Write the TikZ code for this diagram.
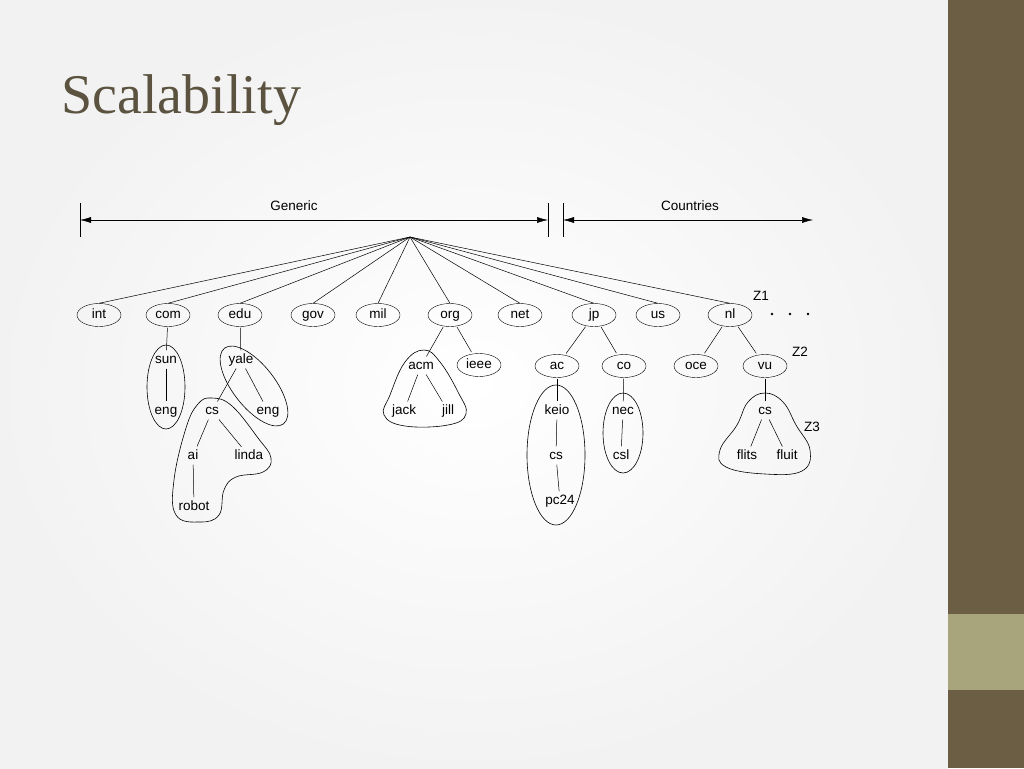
\documentclass[tikz,border=0pt]{standalone}
\usepackage{fontspec}
\setmainfont{Liberation Sans}
\newfontfamily\titlefont{Liberation Serif}
\usetikzlibrary{shapes.geometric,arrows.meta}
\begin{document}
\begin{tikzpicture}[x=1pt,y=-1pt,
  lab/.style={font=\fontsize{13.5}{14}\selectfont,inner sep=1.5pt,text height=9.5pt,text depth=2.5pt},
  ell/.style={lab,draw,ellipse,minimum width=44pt,minimum height=23pt,inner sep=0pt},
  ed/.style={line width=0.5pt},
  arr/.style={line width=0.5pt,{Latex[length=11pt,width=6pt]}-{Latex[length=11pt,width=6pt]}},
  blob/.style={line width=0.6pt}]
\useasboundingbox (0,0) rectangle (1024,768);
\shade[inner color=white,outer color=gray!10] (0,0) rectangle (948,768);
\fill[fill={rgb,255:red,107;green,94;blue,69}] (948,0) rectangle (1024,768);
\fill[fill={rgb,255:red,168;green,164;blue,124}] (948,614) rectangle (1024,690);
\node[anchor=west,text={rgb,255:red,91;green,83;blue,64},font=\titlefont\fontsize{56}{60}\selectfont] (title) at (58,100) {Scalability};
% scale arrows
\coordinate (g1) at (80,220); \coordinate (g2) at (548,220);
\coordinate (c1) at (563,220); \coordinate (c2) at (813,220);
\draw[ed] (80,203) -- (80,237); \draw[ed] (548,203) -- (548,237); \draw[ed] (563,203) -- (563,237);
\draw[arr] (g1) -- (g2);
\draw[arr] (c1) -- (c2);
\node[lab] (generic) at (294,207) {Generic};
\node[lab] (countries) at (690,207) {Countries};
\coordinate (root) at (410,237);
% level 1
\foreach \n/\x in {int/99,com/168,edu/240,gov/313,mil/378,org/450,net/520,jp/594,us/658,nl/730}
  {\node[ell] (\n) at (\x,315) {\n}; \draw[ed] (root) -- (\n.north);}
\node[lab] (z1) at (761,297) {Z1};
\node[lab] (z2) at (800,353) {Z2};
\node[lab] (z3) at (812,428) {Z3};
\foreach \x [count=\i] in {772,790,808} \fill (\x,314) circle (1.3pt);
% level 2
\node[lab] (sun) at (166,360) {sun};
\node[lab] (yale) at (241,360) {yale};
\node[lab] (acm) at (421,366) {acm};
\node[ell] (ieee) at (479,365) {ieee};
\node[ell] (ac) at (557,366) {ac};
\node[ell] (co) at (624,366) {co};
\node[ell] (oce) at (696,366) {oce};
\node[ell] (vu) at (765,366) {vu};
% level 3
\node[lab] (eng1) at (166,411) {eng};
\node[lab] (cs1) at (212,411) {cs};
\node[lab] (eng2) at (268,411) {eng};
\node[lab] (jack) at (404,411) {jack};
\node[lab] (jill) at (448,411) {jill};
\node[lab] (keio) at (557,411) {keio};
\node[lab] (nec) at (623,411) {nec};
\node[lab] (cs3) at (765,411) {cs};
% level 4
\node[lab] (ai) at (193,456) {ai};
\node[lab] (linda) at (249,456) {linda};
\node[lab] (cs2) at (556,456) {cs};
\node[lab] (csl) at (621,456) {csl};
\node[lab] (flits) at (747,456) {flits};
\node[lab] (fluit) at (787,456) {fluit};
\node[lab] (robot) at (194,507) {robot};
\node[lab] (pc24) at (560,501) {pc24};
% edges
\foreach \a/\b in {com/sun,edu/yale,org/acm,org/ieee,jp/ac,jp/co,nl/oce,nl/vu,
  sun/eng1,yale/cs1,yale/eng2,acm/jack,acm/jill,ac/keio,co/nec,vu/cs3,
  cs1/ai,cs1/linda,keio/cs2,nec/csl,cs3/flits,cs3/fluit,ai/robot,cs2/pc24}
  \draw[ed,shorten <=1pt,shorten >=2pt] (\a) -- (\b);
% groups
\draw[blob] (166,387) ellipse [x radius=19, y radius=42];
\draw[blob,rotate around={-52:(254,386)}] (254,386) ellipse [x radius=48, y radius=21];
\draw[blob] plot[smooth cycle,tension=0.7] coordinates {(212,398) (232,406) (258,438) (271,458) (263,472) (236,477) (224,490) (219,515) (200,522) (176,515) (174,480) (186,428) (198,404)};
\draw[blob] plot[smooth cycle,tension=0.7] coordinates {(424,350) (440,362) (458,392) (466,414) (448,425) (405,426) (384,415) (390,395) (405,362)};
\draw[blob] (556,455) ellipse [x radius=29, y radius=70];
\draw[blob] (623,433) ellipse [x radius=20, y radius=40];
\draw[blob] plot[smooth cycle,tension=0.7] coordinates {(765,393) (783,402) (796,425) (810,450) (802,471) (765,474) (726,467) (720,450) (737,425) (748,402)};
\end{tikzpicture}
\end{document}
